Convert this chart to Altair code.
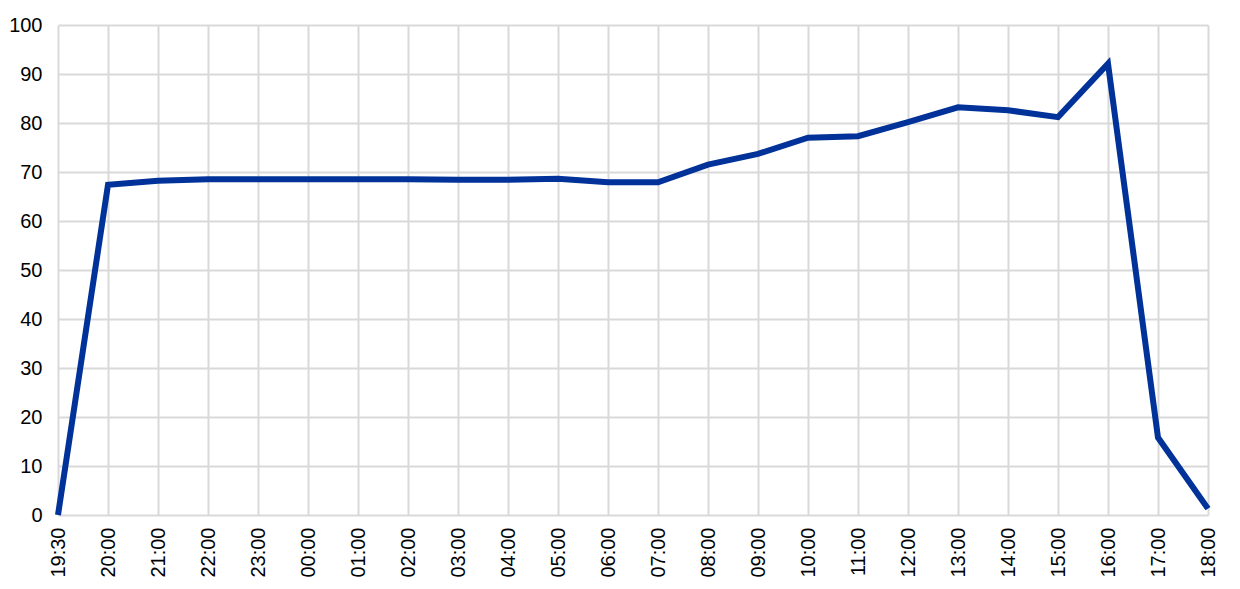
import altair as alt
import pandas as pd

times = ["19:30", "20:00", "21:00", "22:00", "23:00", "00:00", "01:00", "02:00",
         "03:00", "04:00", "05:00", "06:00", "07:00", "08:00", "09:00", "10:00",
         "11:00", "12:00", "13:00", "14:00", "15:00", "16:00", "17:00", "18:00"]
values = [0.0, 67.4, 68.2, 68.5, 68.5, 68.5, 68.5, 68.5,
          68.4, 68.4, 68.6, 67.9, 67.9, 71.5, 73.7, 77.0,
          77.3, 80.2, 83.2, 82.6, 81.2, 92.1, 15.8, 1.3]

df = pd.DataFrame({"time": times, "value": values})

chart = alt.Chart(df).mark_line(color="#003299", strokeWidth=6, strokeJoin="miter").encode(
    x=alt.X("time:N", sort=None, title=None,
            scale=alt.Scale(type="point", padding=0),
            axis=alt.Axis(labelAngle=-90, grid=True, ticks=False, domain=False,
                          labelPadding=12, gridColor="#d9d9d9", gridWidth=2)),
    y=alt.Y("value:Q", title=None,
            scale=alt.Scale(domain=[0, 100], nice=False),
            axis=alt.Axis(values=list(range(0, 101, 10)), ticks=False, domain=False,
                          labelPadding=16, gridColor="#d9d9d9", gridWidth=2)),
).properties(
    width=1150, height=490,
    autosize=alt.AutoSizeParams(type="none"),
    padding={"left": 50, "top": 17, "right": 20, "bottom": 70},
).configure_axis(
    labelFont="Liberation Sans", labelFontSize=20, labelColor="#000000",
).configure_view(stroke=None)

chart.save("out.html", embed_options={"renderer": "svg", "actions": False})
